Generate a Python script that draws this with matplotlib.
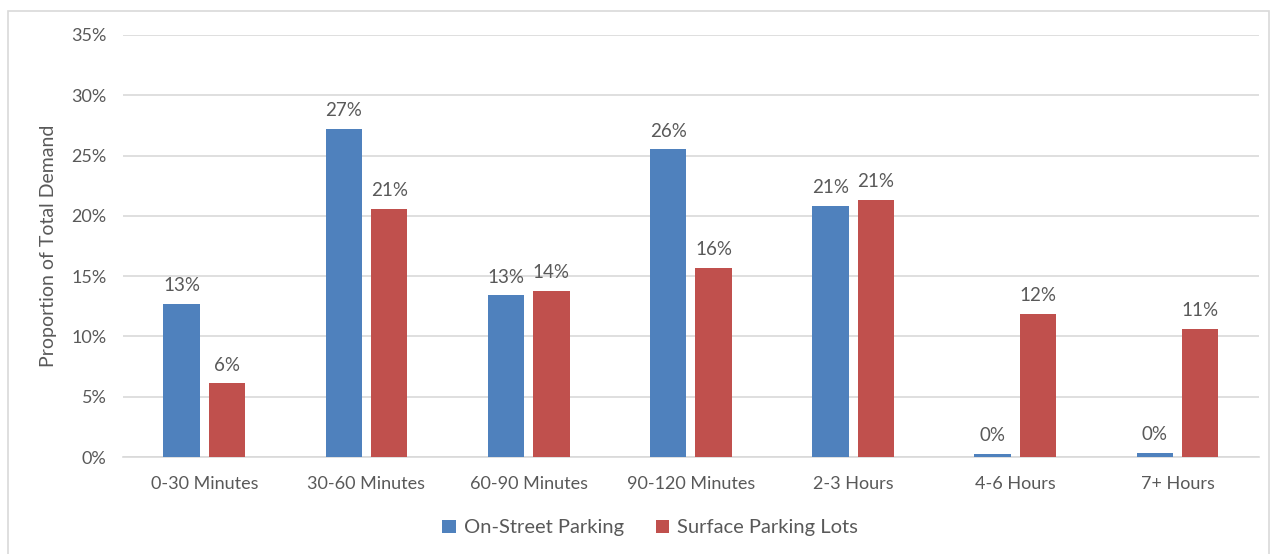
import matplotlib.pyplot as plt
from matplotlib.patches import Rectangle
import numpy as np

plt.rcParams['font.family'] = ['Lato', 'DejaVu Sans']

categories = ['0-30 Minutes', '30-60 Minutes', '60-90 Minutes', '90-120 Minutes',
              '2-3 Hours', '4-6 Hours', '7+ Hours']
on_street = [12.7, 27.2, 13.4, 25.5, 20.8, 0.25, 0.33]
surface_lots = [6.1, 20.6, 13.8, 15.7, 21.3, 11.9, 10.6]
series_names = ['On-Street Parking', 'Surface Parking Lots']

blue = '#4F81BD'
red = '#C0504D'
txt = '#595959'

fig = plt.figure(figsize=(12.7, 5.54), dpi=100)
fig.patches.append(Rectangle((0.006, -0.01), 0.993, 0.99, transform=fig.transFigure,
                             fill=False, edgecolor='#d9d9d9', lw=1.2))
ax = fig.add_axes([0.097, 0.175, 0.894, 0.762])

x = np.arange(len(categories))
w = 0.225
b1 = ax.bar(x - 0.14, on_street, w, color=blue, label=series_names[0], zorder=3)
b2 = ax.bar(x + 0.14, surface_lots, w, color=red, label=series_names[1], zorder=3)

for bars, vals in [(b1, on_street), (b2, surface_lots)]:
    for r, v in zip(bars, vals):
        ax.annotate('%d%%' % round(v), (r.get_x() + r.get_width() / 2, v),
                    xytext=(0, 7), textcoords='offset points', ha='center', va='bottom',
                    fontsize=13.5, color=txt)

ax.set_xlim(-0.5, len(categories) - 0.5)
ax.set_ylim(0, 35)
ax.set_yticks(range(0, 36, 5))
ax.set_yticklabels(['%d%%' % t for t in range(0, 36, 5)])
ax.set_xticks(x)
ax.set_xticklabels(categories)
ax.tick_params(axis='both', length=0, labelsize=13, labelcolor=txt)
ax.tick_params(axis='x', pad=14)
ax.tick_params(axis='y', pad=12)
ax.yaxis.grid(True, color='#d9d9d9', lw=1.2, zorder=0)
for s in ['top', 'right', 'left']:
    ax.spines[s].set_visible(False)
ax.spines['bottom'].set_color('#d9d9d9')
ax.spines['bottom'].set_linewidth(1.2)
ax.set_ylabel('Proportion of Total Demand', fontsize=14, color=txt, labelpad=10)

fig.legend(handles=[b1, b2], loc='center', bbox_to_anchor=(0.512, 0.047), ncol=2,
           frameon=False, fontsize=14.5, labelcolor=txt, handlelength=0.65, handleheight=0.65,
           handletextpad=0.4, columnspacing=1.6)

fig.savefig('out.png', dpi=100, facecolor='white')
